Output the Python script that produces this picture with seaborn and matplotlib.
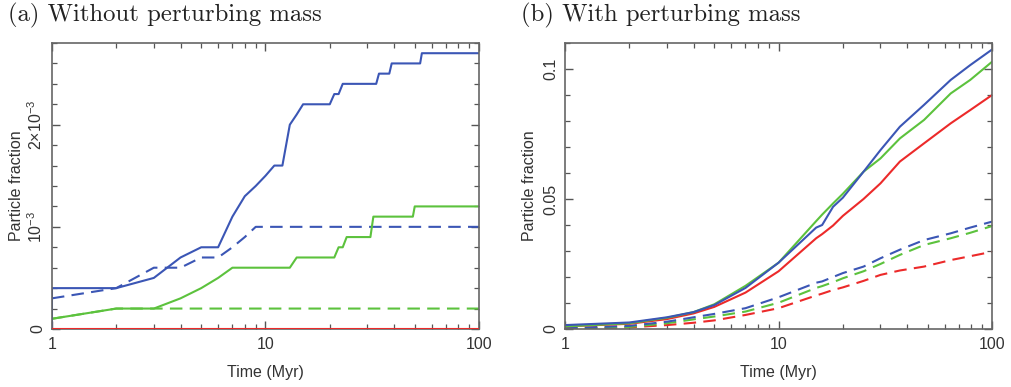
import seaborn as sns
import numpy as np
import pandas as pd
import matplotlib.pyplot as plt
from matplotlib.ticker import FixedLocator, NullFormatter

# (a) without perturbing mass, values in units of 1e-3
a_blue_t = [1, 1, 2, 3, 4, 5, 6, 7, 8, 9, 10, 11, 12, 13, 14, 15, 20, 21, 22, 23, 33, 34, 38, 39, 53, 54, 100]
a_blue_v = [0, 0.4, 0.4, 0.5, 0.7, 0.8, 0.8, 1.1, 1.3, 1.4, 1.5, 1.6, 1.6, 2.0, 2.1, 2.2, 2.2, 2.3, 2.3, 2.4, 2.4, 2.5, 2.5, 2.6, 2.6, 2.7, 2.7]
a_blue_dash_t = [1, 2, 3, 4, 5, 6, 7, 8, 9, 100]
a_blue_dash_v = [0.3, 0.4, 0.6, 0.6, 0.7, 0.7, 0.8, 0.9, 1.0, 1.0]
a_green_t = [1, 2, 3, 4, 5, 6, 7, 13, 14, 21, 22, 23, 24, 31, 32, 49, 50, 100]
a_green_v = [0.1, 0.2, 0.2, 0.3, 0.4, 0.5, 0.6, 0.6, 0.7, 0.7, 0.8, 0.8, 0.9, 0.9, 1.1, 1.1, 1.2, 1.2]
a_green_dash_t = [1, 2, 3, 100]
a_green_dash_v = [0.1, 0.2, 0.2, 0.2]
a_red_t = [1, 100]
a_red_v = [0, 0]

# (b) with perturbing mass
b_t = [1, 2, 3, 4, 5, 7, 10, 15, 16, 18, 20, 25, 30, 37, 48, 64, 79, 100]
b_blue = [0.0015, 0.0025, 0.0045, 0.0065, 0.0092, 0.0158, 0.0255, 0.0390, 0.0400, 0.0470, 0.0505, 0.0605, 0.0688, 0.0778, 0.0862, 0.0958, 0.1015, 0.1075]
b_green = [0.0010, 0.0022, 0.0043, 0.0065, 0.0095, 0.0166, 0.0255, 0.0415, 0.0440, 0.0483, 0.0520, 0.0605, 0.0656, 0.0733, 0.0804, 0.0906, 0.0958, 0.1028]
b_red = [0.0010, 0.0020, 0.0038, 0.0060, 0.0085, 0.0140, 0.0222, 0.0349, 0.0365, 0.0398, 0.0435, 0.0500, 0.0560, 0.0644, 0.0714, 0.0791, 0.0842, 0.0900]
b_blue_dash = [0.0003, 0.0012, 0.0028, 0.0045, 0.0058, 0.0080, 0.0122, 0.0178, 0.0183, 0.0200, 0.0215, 0.0240, 0.0272, 0.0305, 0.0342, 0.0368, 0.0390, 0.0413]
b_green_dash = [0.0002, 0.0008, 0.0022, 0.0037, 0.0048, 0.0067, 0.0101, 0.0158, 0.0165, 0.0180, 0.0195, 0.0222, 0.0250, 0.0285, 0.0323, 0.0349, 0.0370, 0.0396]
b_red_dash = [0.0001, 0.0006, 0.0015, 0.0024, 0.0033, 0.0054, 0.0080, 0.0129, 0.0136, 0.0150, 0.0160, 0.0185, 0.0208, 0.0225, 0.0240, 0.0265, 0.0280, 0.0297]

BLUE = "#3b56b5"
GREEN = "#5cc23d"
RED = "#ec2a2a"
DASH = (0, (6, 3.5))

sns.set_style("ticks")
plt.rcParams["font.family"] = ["Liberation Sans", "DejaVu Sans"]
plt.rcParams["mathtext.fontset"] = "custom"
plt.rcParams["mathtext.rm"] = "Liberation Sans"
plt.rcParams["mathtext.it"] = "Liberation Sans"

fig = plt.figure(figsize=(10.11, 3.87), dpi=100)
ax1 = fig.add_axes([0.0514, 0.1499, 0.4224, 0.739])
ax2 = fig.add_axes([0.5589, 0.1499, 0.4224, 0.739])


def line(ax, t, v, color, dashed=False, scale=1.0, z=2):
    df = pd.DataFrame({"t": t, "v": np.array(v) * scale})
    sns.lineplot(data=df, x="t", y="v", ax=ax, estimator=None, sort=False,
                 color=color, linewidth=1.5, zorder=z,
                 linestyle=DASH if dashed else "-")


# panel a
line(ax1, a_green_dash_t, a_green_dash_v, GREEN, True, 1e-3)
line(ax1, a_blue_dash_t, a_blue_dash_v, BLUE, True, 1e-3)
line(ax1, a_green_t, a_green_v, GREEN, False, 1e-3)
line(ax1, a_blue_t, a_blue_v, BLUE, False, 1e-3)
line(ax1, a_red_t, a_red_v, RED, False, 1e-3, z=5)

# panel b
line(ax2, b_t, b_red_dash, RED, True)
line(ax2, b_t, b_green_dash, GREEN, True)
line(ax2, b_t, b_blue_dash, BLUE, True)
line(ax2, b_t, b_red, RED)
line(ax2, b_t, b_green, GREEN)
line(ax2, b_t, b_blue, BLUE)

for ax in (ax1, ax2):
    ax.set_xscale("log")
    ax.set_xlim(1, 100)
    ax.set_xticks([1, 10, 100])
    ax.set_xticklabels(["1", "10", "100"])
    ax.xaxis.set_minor_formatter(NullFormatter())
    ax.tick_params(which="both", direction="in", top=True, right=True,
                   color="#555555", labelcolor="#333333", labelsize=11.5)
    ax.tick_params(which="major", length=6, width=1.0)
    ax.tick_params(which="minor", length=3.5, width=0.9)
    ax.tick_params(axis="x", pad=6)
    ax.tick_params(axis="y", pad=5)
    for s in ax.spines.values():
        s.set_color("#666666")
        s.set_linewidth(1.2)
    ax.set_xlabel("Time (Myr)", fontsize=11.5, color="#333333", labelpad=9)
    ax.set_ylabel("Particle fraction", fontsize=11.5, color="#333333")
    ax.yaxis.set_label_coords(-0.066, 0.5)

ax1.set_ylim(0, 2.8e-3)
ax1.yaxis.set_major_locator(FixedLocator([0, 1e-3, 2e-3]))
ax1.yaxis.set_minor_locator(FixedLocator(np.arange(0, 2.81e-3, 0.2e-3)))
ax1.set_yticklabels(["0", r"$10^{-3}$", r"$2{\times}10^{-3}$"],
                    rotation=90, va="center")

ax2.set_ylim(0, 0.11)
ax2.yaxis.set_major_locator(FixedLocator([0, 0.05, 0.1]))
ax2.yaxis.set_minor_locator(FixedLocator(np.arange(0, 0.111, 0.01)))
ax2.set_yticklabels(["0", "0.05", "0.1"], rotation=90, va="center")

fig.text(0.008, 0.96, "(a) Without perturbing mass", fontsize=17.8,
         family="cmr10", va="center", ha="left", color="#222222")
fig.text(0.515, 0.96, "(b) With perturbing mass", fontsize=17.8,
         family="cmr10", va="center", ha="left", color="#222222")

fig.savefig("out.png", dpi=100)
